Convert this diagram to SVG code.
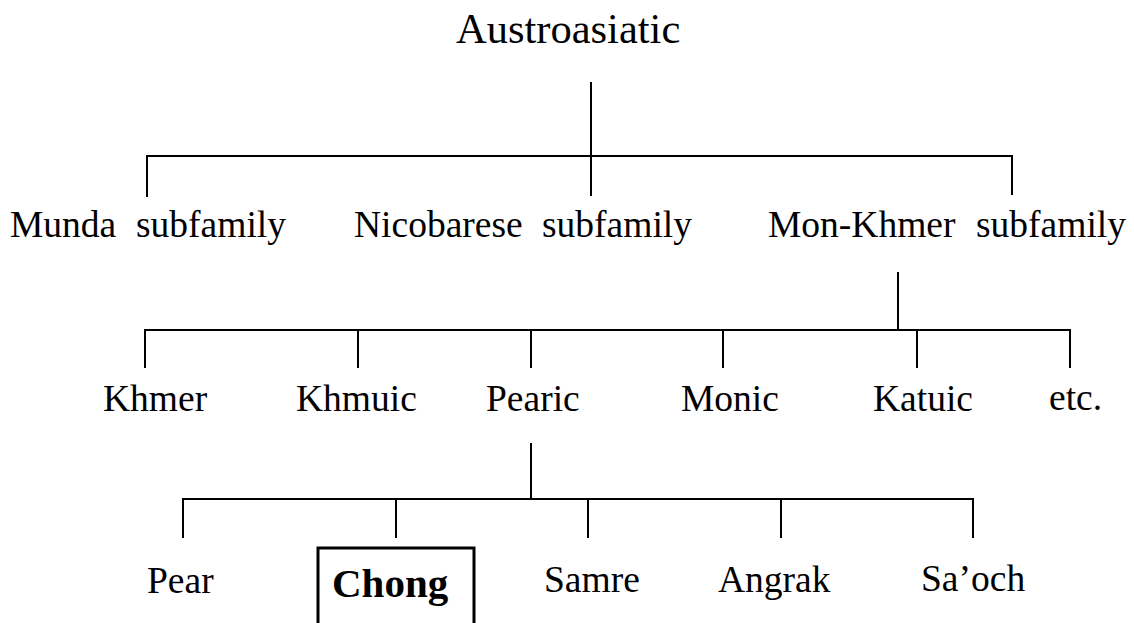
<svg xmlns="http://www.w3.org/2000/svg" width="1134" height="623" viewBox="0 0 1134 623">
<style>
text{font-family:"Liberation Serif","Times New Roman",serif;fill:#000}
.r2,.r3,.r4{font-size:37.5px}
.top{font-size:42.5px}
.bold{font-size:41px;font-weight:bold}
.ln{stroke:#000;stroke-width:2;fill:none}
.box{stroke:#000;stroke-width:3;fill:none}
</style>
<rect width="1134" height="623" fill="#fff"/>
<g id="connectors">
<path class="ln" d="M591 82V196M147 197V156H1012V195"/>
<path class="ln" d="M898 272V330M145 368V330H1070V368M358 330V368M531 330V368M723 330V368M917 330V368"/>
<path class="ln" d="M531 443V499M183 538V499H973V538M396 499V538M588 499V538M781 499V538"/>
</g>
<g id="austroasiatic"><text class="top" x="456" y="43">Austroasiatic</text></g>
<g id="munda"><text class="r2" y="237"><tspan x="10">Munda</tspan><tspan x="136">subfamily</tspan></text></g>
<g id="nicobarese"><text class="r2" y="237"><tspan x="354">Nicobarese</tspan><tspan x="542">subfamily</tspan></text></g>
<g id="monkhmer"><text class="r2" y="237"><tspan x="768">Mon-Khmer</tspan><tspan x="976">subfamily</tspan></text></g>
<g id="khmer"><text class="r3" x="103" y="411">Khmer</text></g>
<g id="khmuic"><text class="r3" x="296" y="411">Khmuic</text></g>
<g id="pearic"><text class="r3" x="486" y="411">Pearic</text></g>
<g id="monic"><text class="r3" x="681" y="411">Monic</text></g>
<g id="katuic"><text class="r3" x="873" y="411">Katuic</text></g>
<g id="etc"><text class="r3" x="1049" y="410">etc.</text></g>
<g id="pear"><text class="r4" x="147" y="593">Pear</text></g>
<g id="chong"><path class="box" d="M318 625V548H474V625"/><text class="bold" x="332" y="597">Chong</text></g>
<g id="samre"><text class="r4" x="544" y="592">Samre</text></g>
<g id="angrak"><text class="r4" x="718" y="592">Angrak</text></g>
<g id="saoch"><text class="r4" x="921" y="591">Sa’och</text></g>
</svg>
